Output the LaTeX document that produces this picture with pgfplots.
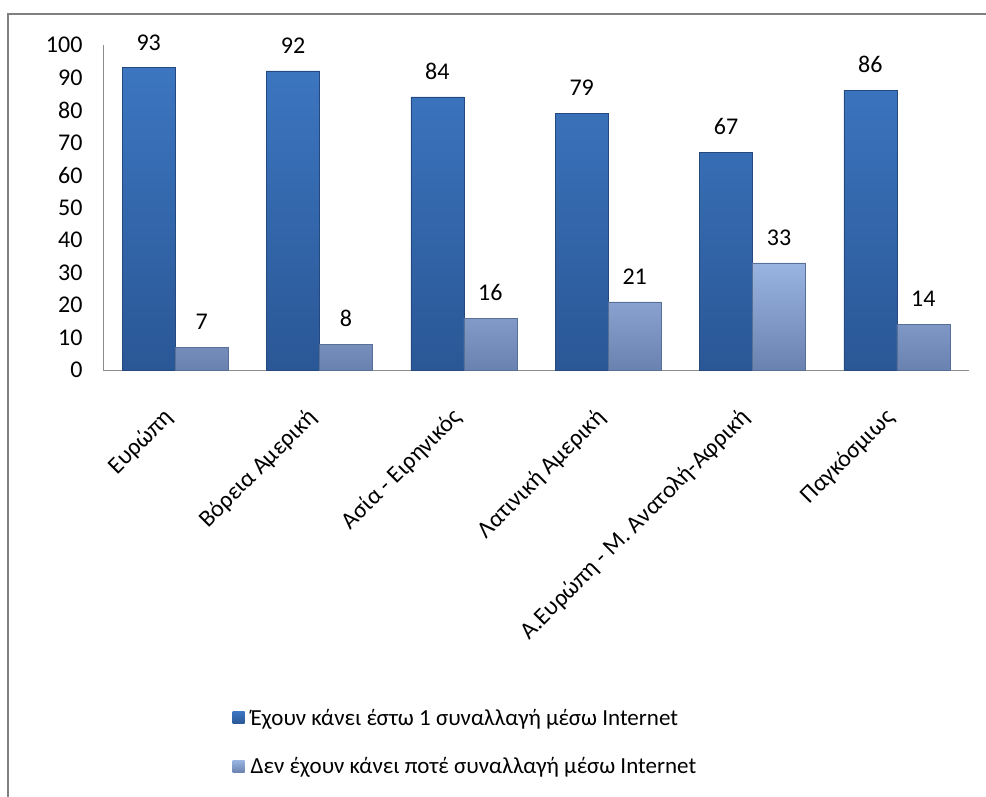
\documentclass[border=0pt]{standalone}
\usepackage{fontspec}
\setmainfont{Carlito}
\usepackage{pgfplots}
\pgfplotsset{compat=1.18}
\definecolor{dtop}{HTML}{3C76C0}
\definecolor{dbot}{HTML}{2A5796}
\definecolor{dedge}{HTML}{24497E}
\definecolor{ltop}{HTML}{9AB4E2}
\definecolor{lbot}{HTML}{6A82B0}
\definecolor{ledge}{HTML}{5A6F98}
\begin{document}
\begin{tikzpicture}[x=1pt,y=1pt]
\useasboundingbox (0,0) rectangle (986,796);
\draw[line width=2pt, color=black!50] (8,-2) -- (8,782) -- (990,782);
\begin{axis}[
  at={(103pt,426pt)}, anchor=south west,
  scale only axis, width=866pt, height=325pt,
  xmin=-0.5, xmax=5.5, ymin=0, ymax=100,
  axis x line=bottom, axis y line=left,
  axis line style={draw=black!45, line width=1pt, -},
  ytick={0,10,...,100},
  xtick={0,...,5},
  xticklabels={Ευρώπη, Βόρεια Αμερική, Ασία - Ειρηνικός, Λατινική Αμερική, Α.Ευρώπη - Μ. Ανατολή-Αφρική, Παγκόσμιως},
  major tick length=0pt,
  /pgf/number format/assume math mode=true,
  tick label style={font=\fontsize{24}{29}\selectfont},
  yticklabel style={xshift=-17pt},
  xticklabel style={rotate=45, anchor=east, xshift=-32pt, yshift=-27pt},
  ybar=0pt, bar width=53pt,
  nodes near coords,
  every node near coord/.append style={font=\fontsize{24}{29}\selectfont, yshift=14pt, text=black},
  legend style={at={(rel axis cs:0.146,-1.03)}, anchor=north west, draw=none, fill=none,
    font=\fontsize{23}{28}\selectfont, row sep=27pt, legend cell align=left,
    /tikz/every odd column/.append style={column sep=4pt}},
  legend image code/.code={\path[#1, draw=none] (0pt,-6pt) rectangle (12pt,6pt);},
  clip=false,
]
\addplot[draw=dedge, line width=0.5pt, top color=dtop, bottom color=dbot] coordinates {(0,93) (1,92) (2,84) (3,79) (4,67) (5,86)};
\addplot[draw=ledge, line width=0.5pt, top color=ltop, bottom color=lbot] coordinates {(0,7) (1,8) (2,16) (3,21) (4,33) (5,14)};
\legend{Έχουν κάνει έστω 1 συναλλαγή μέσω Internet, Δεν έχουν κάνει ποτέ συναλλαγή μέσω Internet}
\end{axis}
\end{tikzpicture}
\end{document}
